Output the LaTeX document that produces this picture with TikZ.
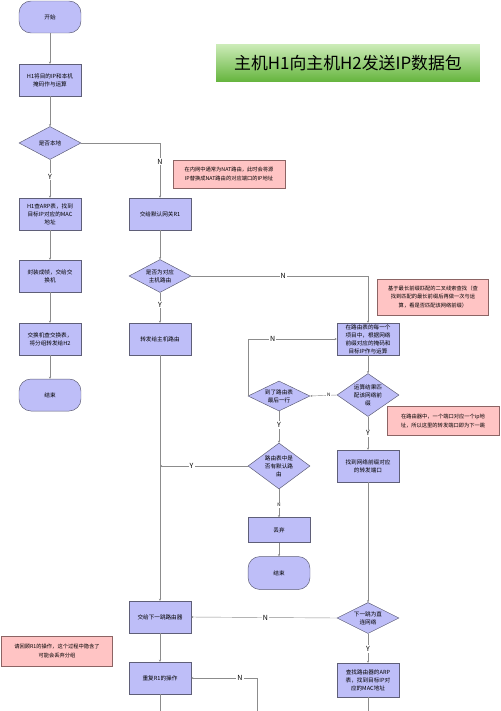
\documentclass[tikz,border=0pt]{standalone}
\usepackage{fontspec}
\setmainfont{Noto Sans CJK SC}
\usetikzlibrary{shapes.geometric,arrows.meta}
\definecolor{boxfill}{RGB}{190,190,248}
\definecolor{boxline}{RGB}{95,95,120}
\definecolor{notefill}{RGB}{255,196,196}
\definecolor{noteline}{RGB}{140,100,100}
\definecolor{flowline}{RGB}{140,140,140}
\definecolor{titletop}{RGB}{205,236,185}
\definecolor{titlebot}{RGB}{100,180,60}

\begin{document}
\begin{tikzpicture}[x=0.05cm, y=-0.05cm,
    box/.style={rectangle, draw=boxline, fill=boxfill, line width=0.7pt, minimum width=3.1cm, minimum height=1.6cm, inner sep=1pt, align=center, font=\fontsize{8}{11.5}\selectfont},
    term/.style={box, rounded corners=0.6cm},
    decision/.style={diamond, draw=boxline, fill=boxfill, line width=0.7pt, inner sep=0pt, minimum width=3.1cm},
    dtext/.style={align=center, inner sep=0pt, font=\fontsize{8}{11.5}\selectfont},
    note/.style={rectangle, draw=noteline, fill=notefill, line width=0.7pt, inner sep=1pt, align=center, font=\fontsize{7.5}{11.5}\selectfont},
    flow/.style={draw=flowline, line width=0.6pt, -{Stealth[length=3pt,width=3pt]}},
    plain/.style={draw=flowline, line width=0.6pt},
    yn/.style={fill=white, inner sep=1.5pt, font=\fontsize{10}{12}\selectfont},
    ynsmall/.style={fill=white, inner sep=1pt, font=\fontsize{6.5}{8}\selectfont}]
    \useasboundingbox (0,0) rectangle (500,711);

    % title
    \node[top color=titletop, bottom color=titlebot, minimum width=13.2cm, minimum height=1.9cm, font=\fontsize{24}{28}\selectfont] (title) at (348,63) {主机H1向主机H2发送IP数据包};

    % host H1
    \node[term] (start) at (50,17) {开始};
    \node[box] (andop) at (50,80) {H1将目的IP和本机\\掩码作与运算};
    \node[decision, minimum height=1.65cm, label={[dtext]center:是否本地}] (islocal) at (50,143) {};
    \node[box] (arp1) at (50,214) {H1查ARP表，找到\\目标IP对应的MAC\\地址};
    \node[box] (frame) at (50,276) {封装成帧，交给交\\换机};
    \node[box] (switch) at (50,339) {交换机查交换表，\\将分组转发给H2};
    \node[term] (end1) at (50,395) {结束};

    % gateway R1
    \node[box] (gw) at (160,214) {交给默认网关R1};
    \node[note, minimum width=5.6cm, minimum height=1.4cm] (nat) at (229,174) {在内网中通常为NAT路由，此时会将源\\IP替换成NAT路由的对应端口的IP地址};
    \node[decision, minimum height=1.65cm, label={[dtext]center:是否为对应\\主机路由}] (ishost) at (160,276) {};
    \node[box] (tohost) at (160,339) {转发给主机路由};
    \node[box] (nexthop) at (160,617) {交给下一跳路由器};
    \node[box] (repeat) at (160,678) {重复R1的操作};
    \node[note, minimum width=5.55cm, minimum height=1.5cm] (r1note) at (57,651) {请回顾R1的操作，这个过程中隐含了\\可能会丢弃分组};
    \coordinate (join) at (160,466);

    % routing table
    \node[note, minimum width=5.55cm, minimum height=1.8cm] (lpmnote) at (433,297) {基于最长前缀匹配的二叉线索查找（查\\找到匹配的最长前缀后再做一次与运\\算，看是否匹配该网络前缀）};
    \node[box] (eachrow) at (368,339) {在路由表的每一个\\项目中，根据网络\\前缀对应的掩码和\\目标IP作与运算};
    \node[decision, minimum height=2.15cm, label={[dtext]center:运算结果匹\\配该网络前\\缀}] (match) at (368,395) {};
    \node[note, minimum width=5.6cm, minimum height=1.45cm] (routernote) at (443,421) {在路由器中，一个端口对应一个ip地\\址，所以这里的转发端口即为下一跳};
    \node[box] (port) at (368,466) {找到网络前缀对应\\的转发端口};
    \node[decision, minimum height=1.55cm, label={[dtext]center:下一跳为直\\连网络}] (direct) at (368,618) {};
    \node[box, minimum height=1.7cm] (arp2) at (368,680) {查找路由器的ARP\\表，找到目标IP对\\应的MAC地址};

    \node[decision, minimum height=1.5cm, label={[dtext]center:到了路由表\\最后一行}] (lastrow) at (279,396) {};
    \node[decision, minimum height=2.3cm, label={[dtext]center:路由表中是\\否有默认路\\由}] (hasdef) at (279,466) {};
    \node[box, minimum height=1.25cm] (drop) at (279,530) {丢弃};
    \node[term, minimum height=1.65cm] (end2) at (279,573) {结束};

    \coordinate (out1) at (160,711);
    \coordinate (out2) at (368,711);
    \coordinate (back) at (257,711);

    % connectors
    \draw[flow] (start) -- (andop);
    \draw[flow] (andop) -- (islocal);
    \draw[flow] (islocal) -- node[yn, pos=0.45] (y1) {Y} (arp1);
    \draw[flow] (islocal.east) -| node[yn, pos=0.67] (n1) {N} (gw.north);
    \draw[flow] (arp1) -- (frame);
    \draw[flow] (frame) -- (switch);
    \draw[flow] (switch) -- (end1);

    \draw[flow] (gw) -- (ishost);
    \draw[flow] (ishost) -- node[yn, pos=0.4] (y2) {Y} (tohost);
    \draw[flow] (ishost.east) -| node[yn, pos=0.26] (n2) {N} (eachrow.north);
    \draw[flow] (tohost) -- (nexthop);

    \draw[flow] (eachrow) -- (match);
    \draw[flow] (match.west) -- node[ynsmall, pos=0.3] (n3) {N} (lastrow.east);
    \draw[flow] (lastrow.west) |- node[yn, pos=0.64] (n4) {N} (eachrow.west);
    \draw[flow] (lastrow) -- node[yn, pos=0.44] (y3) {Y} (hasdef);
    \draw[flow] (hasdef.west) -- node[yn, pos=0.64] (y4) {Y} (join);
    \draw[flow] (hasdef) -- node[ynsmall, pos=0.57] (n5) {N} (drop);
    \draw[flow] (drop) -- (end2);

    \draw[flow] (match) -- node[yn, pos=0.5] (y5) {Y} (port);
    \draw[flow] (port) -- (direct);
    \draw[flow] (direct.west) -- node[yn, pos=0.49] (n6) {N} (nexthop.east);
    \draw[flow] (direct) -- node[yn, pos=0.53] (y6) {Y} (arp2);
    \draw[plain] (arp2) -- (out2);

    \draw[flow] (nexthop) -- (repeat);
    \draw[plain] (repeat) -- (out1);
    \draw[flow] (back) |- node[yn, pos=0.63] (n7) {N} (repeat.east);
\end{tikzpicture}
\end{document}
